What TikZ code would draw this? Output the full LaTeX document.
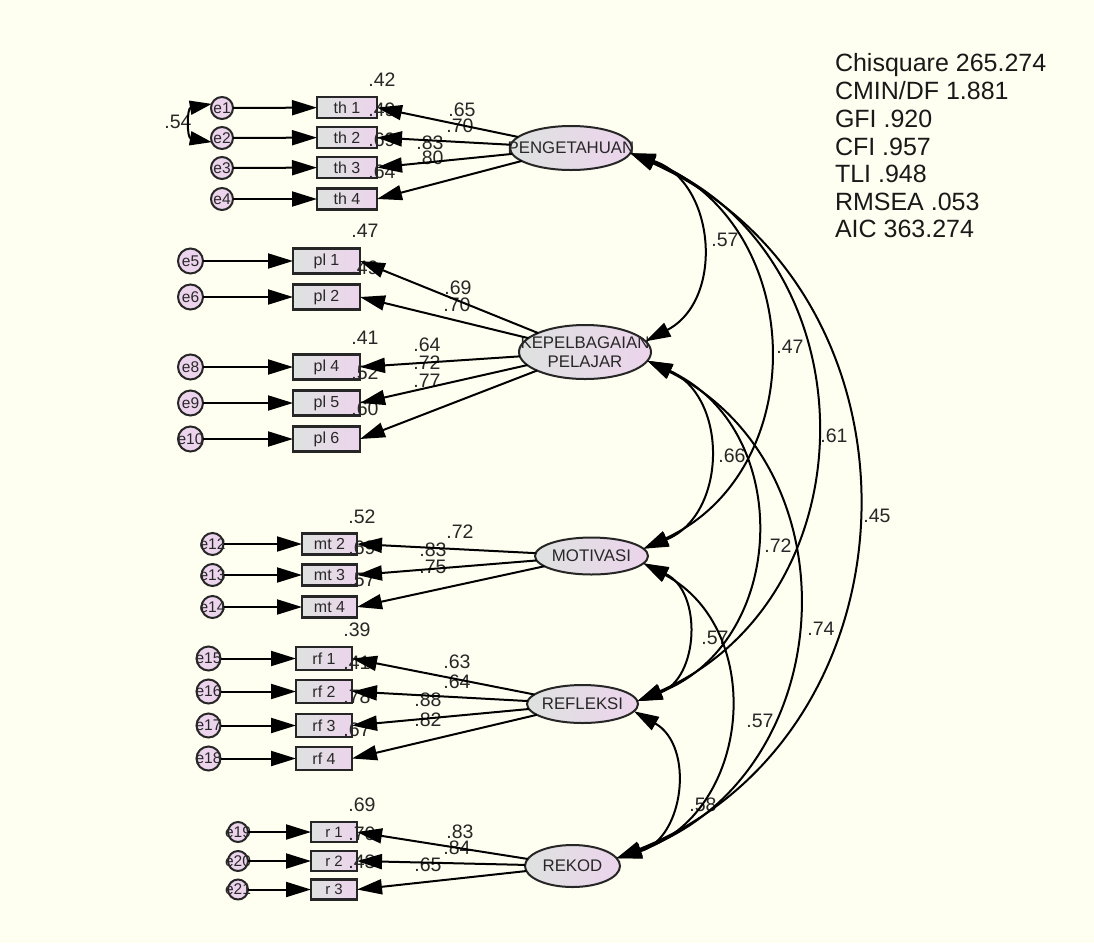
\documentclass[tikz,border=0pt]{standalone}
\usepackage{fontspec}
\setmainfont{Liberation Sans}
\usetikzlibrary{arrows.meta,shapes.geometric}
\definecolor{bgc}{RGB}{254,255,240}
\definecolor{gleft}{RGB}{222,226,224}
\definecolor{gright}{RGB}{236,212,236}
\definecolor{ink}{RGB}{40,40,40}
\newcommand\myfs[1]{\fontsize{#1}{#1}\selectfont}
\tikzset{
  every node/.style={inner sep=0pt,outer sep=0pt},
  obsv/.style={rectangle,draw=black!85,line width=2.2pt,left color=gleft,right color=gright,minimum height=21pt,font=\myfs{16},text=ink},
  latv/.style={ellipse,draw=black!85,line width=2pt,left color=gleft,right color=gright,label={[font=\fontsize{16.8}{19}\selectfont,text=ink,align=center]center:#1}},
  errv/.style={circle,draw=black!85,line width=2pt,fill=gright,label={[font=\myfs{15.5},text=ink]center:#1}},
  num/.style={font=\myfs{19.5},text=ink},
  fitl/.style={font=\myfs{25},text=black!90,anchor=base west},
  arr/.style={line width=2pt,-{Triangle[length=25pt,width=15pt]}},
  cov/.style={line width=2pt,{Triangle[length=25pt,width=15pt]}-{Triangle[length=25pt,width=15pt]}},
  arc/.style={cov,bend left=67,looseness=1.22},
}
\begin{document}
\begin{tikzpicture}[x=1pt,y=-1pt]
\fill[bgc] (0,0) rectangle (1094,943);
\useasboundingbox (0,0) rectangle (1094,943);

% ---------- latent variables
\node[latv={PENGETAHUAN},minimum width=122pt,minimum height=44pt] (PENG) at (571,148) {};
\node[latv={KEPELBAGAIAN\\PELAJAR},minimum width=132pt,minimum height=54pt] (KEP) at (585,352) {};
\node[latv={MOTIVASI},minimum width=113pt,minimum height=37pt] (MOT) at (591.5,556) {};
\node[latv={REFLEKSI},minimum width=111pt,minimum height=38pt] (REF) at (582.5,704) {};
\node[latv={REKOD},minimum width=95pt,minimum height=42pt] (REK) at (572.5,866) {};

% ---------- observed variables
\node[obsv,minimum width=60pt] (th1) at (347,107.5) {th 1};
\node[obsv,minimum width=60pt] (th2) at (347,137.5) {th 2};
\node[obsv,minimum width=60pt] (th3) at (347,167.5) {th 3};
\node[obsv,minimum width=60pt] (th4) at (347,199) {th 4};

\node[obsv,minimum width=67pt,minimum height=25pt] (pl1) at (326.5,261) {pl 1};
\node[obsv,minimum width=67pt,minimum height=25pt] (pl2) at (326.5,297) {pl 2};
\node[obsv,minimum width=67pt,minimum height=25pt] (pl4) at (326.5,367) {pl 4};
\node[obsv,minimum width=67pt,minimum height=25pt] (pl5) at (326.5,403) {pl 5};
\node[obsv,minimum width=67pt,minimum height=25pt] (pl6) at (326.5,439) {pl 6};

\node[obsv,minimum width=55pt] (mt2) at (329.5,544) {mt 2};
\node[obsv,minimum width=55pt] (mt3) at (329.5,575) {mt 3};
\node[obsv,minimum width=55pt] (mt4) at (329.5,607) {mt 4};

\node[obsv,minimum width=56pt,minimum height=23pt] (rf1) at (324,658.5) {rf 1};
\node[obsv,minimum width=56pt,minimum height=23pt] (rf2) at (324,691.5) {rf 2};
\node[obsv,minimum width=56pt,minimum height=23pt] (rf3) at (324,725.5) {rf 3};
\node[obsv,minimum width=56pt,minimum height=23pt] (rf4) at (324,758.5) {rf 4};

\node[obsv,minimum width=46pt,minimum height=20pt,font=\myfs{15}] (r1) at (334,832) {r 1};
\node[obsv,minimum width=46pt,minimum height=20pt,font=\myfs{15}] (r2) at (334,861) {r 2};
\node[obsv,minimum width=46pt,minimum height=20pt,font=\myfs{15}] (r3) at (334,889.5) {r 3};

% ---------- error terms
\node[errv={e1},minimum size=22pt] (e1) at (222,108) {};
\node[errv={e2},minimum size=22pt] (e2) at (222,138) {};
\node[errv={e3},minimum size=22pt] (e3) at (222,168) {};
\node[errv={e4},minimum size=22pt] (e4) at (222,199) {};

\node[errv={e5},minimum size=25pt] (e5) at (190.5,261) {};
\node[errv={e6},minimum size=25pt] (e6) at (190.5,297) {};
\node[errv={e8},minimum size=25pt] (e8) at (190.5,367) {};
\node[errv={e9},minimum size=25pt] (e9) at (190.5,403) {};
\node[errv={e10},minimum size=25pt] (e10) at (190.5,439) {};

\node[errv={e12},minimum size=22pt] (e12) at (212.5,544) {};
\node[errv={e13},minimum size=22pt] (e13) at (212.5,575) {};
\node[errv={e14},minimum size=22pt] (e14) at (212.5,607) {};

\node[errv={e15},minimum size=24pt] (e15) at (208.5,658.5) {};
\node[errv={e16},minimum size=24pt] (e16) at (208.5,691.5) {};
\node[errv={e17},minimum size=24pt] (e17) at (208.5,725.5) {};
\node[errv={e18},minimum size=24pt] (e18) at (208.5,758.5) {};

\node[errv={e19},minimum size=20pt] (e19) at (238,832) {};
\node[errv={e20},minimum size=20pt] (e20) at (238,861) {};
\node[errv={e21},minimum size=20pt] (e21) at (238,889.5) {};

% ---------- squared multiple correlations
\node[num] (q1) at (382,80) {.42};
\node[num] (q2) at (382,110) {.49};
\node[num] (q3) at (382,140) {.69};
\node[num] (q4) at (382,171.5) {.64};
\node[num] (q5) at (365,231) {.47};
\node[num] (q6) at (365,268) {.49};
\node[num] (q8) at (365,338) {.41};
\node[num] (q9) at (365,373) {.52};
\node[num] (q10) at (365,409) {.60};
\node[num] (q12) at (362,517) {.52};
\node[num] (q13) at (362,548) {.69};
\node[num] (q14) at (362,580) {.57};
\node[num] (q15) at (357,630) {.39};
\node[num] (q16) at (357,663) {.41};
\node[num] (q17) at (357,697) {.78};
\node[num] (q18) at (357,730) {.67};
\node[num] (q19) at (362,805) {.69};
\node[num] (q20) at (362,834) {.70};
\node[num] (q21) at (362,862) {.43};

% ---------- loadings
\node[num] (w1) at (462,110) {.65};
\node[num] (w2) at (460,126) {.70};
\node[num] (w3) at (430,143) {.83};
\node[num] (w4) at (430,158) {.80};
\node[num] (w5) at (458,288) {.69};
\node[num] (w6) at (457,305) {.70};
\node[num] (w8) at (427,345) {.64};
\node[num] (w9) at (427,363) {.72};
\node[num] (w10) at (427,381) {.77};
\node[num] (w12) at (460,532) {.72};
\node[num] (w13) at (433,550) {.83};
\node[num] (w14) at (433,567) {.75};
\node[num] (w15) at (457,662) {.63};
\node[num] (w16) at (457,682) {.64};
\node[num] (w17) at (428,700) {.88};
\node[num] (w18) at (428,720) {.82};
\node[num] (w19) at (460,832) {.83};
\node[num] (w20) at (457,848) {.84};
\node[num] (w21) at (428,865) {.65};

% ---------- correlations
\node[num] (c1) at (725,240) {.57};
\node[num] (c2) at (790,347) {.47};
\node[num] (c3) at (834,436) {.61};
\node[num] (c4) at (877,516) {.45};
\node[num] (c5) at (732,456) {.66};
\node[num] (c6) at (778,546) {.72};
\node[num] (c7) at (821,629) {.74};
\node[num] (c8) at (715,638) {.57};
\node[num] (c9) at (760,721) {.57};
\node[num] (c10) at (703,805) {.58};
\node[num] (c0) at (178,122) {.54};

% ---------- fit indices
\node[fitl] (f1) at (835,71.5) {Chisquare 265.274};
\node[fitl] (f2) at (835,99.5) {CMIN/DF 1.881};
\node[fitl] (f3) at (835,127.5) {GFI .920};
\node[fitl] (f4) at (835,155.5) {CFI .957};
\node[fitl] (f5) at (835,182.5) {TLI .948};
\node[fitl] (f6) at (835,210.5) {RMSEA .053};
\node[fitl] (f7) at (835,237.5) {AIC 363.274};

% ---------- error arrows
\foreach \e/\o in {e1/th1,e2/th2,e3/th3,e4/th4,e5/pl1,e6/pl2,e8/pl4,e9/pl5,e10/pl6,
  e12/mt2,e13/mt3,e14/mt4,e15/rf1,e16/rf2,e17/rf3,e18/rf4,e19/r1,e20/r2,e21/r3}
  \draw[arr] (\e) -- (\o);

% ---------- loading arrows
\foreach \o in {th1,th2,th3,th4} \draw[arr] (PENG) -- (\o.east);
\foreach \o in {pl1,pl2,pl4,pl5,pl6} \draw[arr] (KEP) -- (\o.east);
\foreach \o in {mt2,mt3,mt4} \draw[arr] (MOT) -- (\o.east);
\foreach \o in {rf1,rf2,rf3,rf4} \draw[arr] (REF) -- (\o.east);
\foreach \o in {r1,r2,r3} \draw[arr] (REK) -- (\o.east);

% ---------- error covariance
\draw[line width=2pt,{Triangle[length=22pt,width=14pt]}-{Triangle[length=22pt,width=14pt]}]
  (e1.158) to[out=190,in=170,looseness=1.7] (e2.202);

% ---------- factor correlations
\draw[arc] (PENG.-5) to (KEP.10);
\draw[arc] (PENG.-5) to (MOT.8);
\draw[arc] (PENG.-5) to (REF.3);
\draw[arc] (PENG.-5) to (REK.10);
\draw[arc] (KEP.-8) to (MOT.8);
\draw[arc] (KEP.-8) to (REF.3);
\draw[arc] (KEP.-8) to (REK.10);
\draw[arc] (MOT.-8) to (REF.3);
\draw[arc] (MOT.-8) to (REK.10);
\draw[arc] (REF.-8) to (REK.10);
\end{tikzpicture}
\end{document}
